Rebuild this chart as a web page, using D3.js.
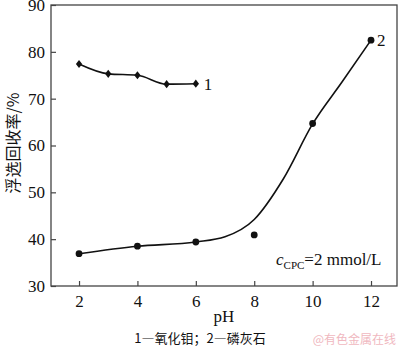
<!DOCTYPE html>
<html lang="zh">
<head>
<meta charset="UTF-8"/>
<title>pH chart</title>
<script src="https://d3js.org/d3.v7.min.js"></script>
<style>
  body { margin: 0; background: #fff; }
  text { font-family: "Liberation Serif", "Times New Roman", serif; fill: #111; }
  .cjk { font-family: "Noto Sans CJK SC", sans-serif; }
</style>
</head>
<body>
<script>
// data
var xTicks = [2, 4, 6, 8, 10, 12];
var yTicks = [30, 40, 50, 60, 70, 80, 90];

var moPH = [2, 3, 4, 5, 6];            // 1 - 氧化钼
var moRec = [77.4, 75.3, 75.0, 73.1, 73.2];

var apPH = [2, 4, 6, 8, 10, 12];       // 2 - 磷灰石
var apRec = [36.9, 38.5, 39.4, 40.9, 64.7, 82.5];

// fitted curve drawn for apatite
var fitPH = [2, 4, 6, 7, 8, 9, 10, 11, 12];
var fitRec = [36.9, 38.5, 39.4, 40.5, 44.2, 52.9, 64.6, 73.5, 82.5];

var w = 400, h = 351;
// plot box edges (note: "top" is a reserved window global, so use a prefix)
var pL = 51, pR = 397, pT = 5, pB = 286;

var svg = d3.select("body").append("svg")
    .attr("width", w)
    .attr("height", h);

var x = d3.scaleLinear().domain([1.04, 12.89]).range([pL, pR]);
var y = d3.scaleLinear().domain([30, 90]).range([pB, pT]);

// frame
svg.append("rect")
    .attr("x", pL).attr("y", pT)
    .attr("width", pR - pL).attr("height", pB - pT)
    .attr("fill", "none").attr("stroke", "#444").attr("stroke-width", 1.3);

// axes with inward ticks
var xAxis = svg.append("g")
    .attr("transform", "translate(0," + pB + ")")
    .call(d3.axisBottom(x).tickValues(xTicks).tickSizeInner(-5).tickSizeOuter(0).tickPadding(9));
var yAxis = svg.append("g")
    .attr("transform", "translate(" + pL + ",0)")
    .call(d3.axisLeft(y).tickValues(yTicks).tickSizeInner(-5).tickSizeOuter(0).tickPadding(6));

[xAxis, yAxis].forEach(function(a){
    a.select(".domain").remove();
    a.selectAll("line").attr("stroke", "#444").attr("stroke-width", 1.2);
    a.selectAll("text")
        .style("font-family", "'Liberation Serif', serif")
        .style("font-size", "17px")
        .attr("fill", "#111");
});

// lines
var line = d3.line()
    .x(function(d){ return x(d[0]); })
    .y(function(d){ return y(d[1]); })
    .curve(d3.curveMonotoneX);

svg.append("path")
    .datum(d3.zip(moPH, moRec))
    .attr("d", line)
    .attr("fill", "none").attr("stroke", "#111").attr("stroke-width", 1.6);

svg.append("path")
    .datum(d3.zip(fitPH, fitRec))
    .attr("d", line)
    .attr("fill", "none").attr("stroke", "#111").attr("stroke-width", 1.6);

// markers
var diamond = d3.symbol().type(d3.symbolDiamond).size(24);
svg.selectAll(".mo")
    .data(d3.zip(moPH, moRec))
    .enter().append("path")
    .attr("class", "mo")
    .attr("d", diamond)
    .attr("transform", function(d){ return "translate(" + x(d[0]) + "," + y(d[1]) + ") scale(1.2,0.9)"; })
    .attr("fill", "#111");

svg.selectAll(".ap")
    .data(d3.zip(apPH, apRec))
    .enter().append("circle")
    .attr("class", "ap")
    .attr("cx", function(d){ return x(d[0]); })
    .attr("cy", function(d){ return y(d[1]); })
    .attr("r", 3.4)
    .attr("fill", "#111");

// series labels
svg.append("text")
    .attr("x", x(6) + 8).attr("y", y(moRec[4]) + 6)
    .style("font-size", "17px").text("1");
svg.append("text")
    .attr("x", x(12) + 6).attr("y", y(apRec[5]) + 6)
    .style("font-size", "17px").text("2");

// concentration note
var note = svg.append("text")
    .attr("x", 276).attr("y", 265)
    .style("font-size", "17px");
note.append("tspan").style("font-style", "italic").text("c");
note.append("tspan").attr("dy", 4).style("font-size", "11px").text("CPC");
note.append("tspan").attr("dy", -4).text("=2 mmol/L");

// axis titles
svg.append("text")
    .attr("x", (pL + pR) / 2).attr("y", 322)
    .attr("text-anchor", "middle")
    .style("font-size", "17px").text("pH");

svg.append("text")
    .attr("class", "cjk")
    .attr("transform", "translate(19,143) rotate(-90)")
    .attr("text-anchor", "middle")
    .style("font-size", "16px")
    .text("浮选回收率/%");

// caption and watermark
svg.append("text")
    .attr("class", "cjk")
    .attr("x", 200).attr("y", 343)
    .attr("text-anchor", "middle")
    .style("font-size", "13px")
    .text("1—氧化钼；2—磷灰石");

svg.append("text")
    .attr("class", "cjk")
    .attr("x", 396).attr("y", 344)
    .attr("text-anchor", "end")
    .style("font-size", "12px")
    .style("fill", "#f0b8c0")
    .text("@有色金属在线");
</script>
</body>
</html>
